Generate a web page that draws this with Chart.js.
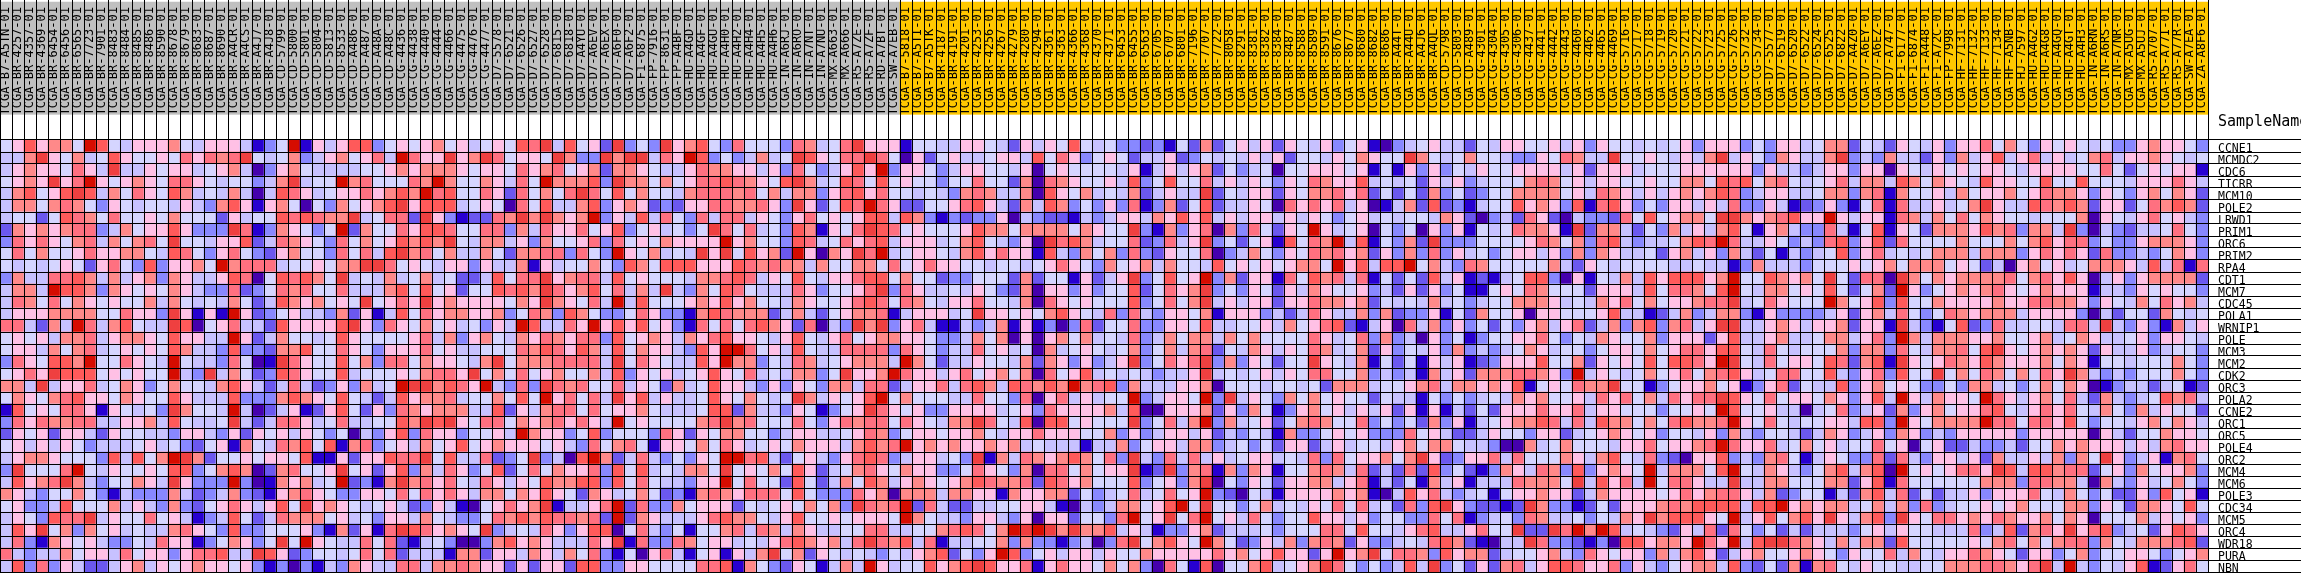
<!DOCTYPE html>
<html>
<head>
<meta charset="utf-8">
<title>Heatmap</title>
<script src="https://cdn.jsdelivr.net/npm/chart.js@4"></script>
<style>
  body { margin: 0; background: #fff; }
  canvas { display: block; }
</style>
</head>
<body>
<canvas id="chart" width="2301" height="573"></canvas>
<script>
// sample ids, grouped as they appear left to right
const greySamples = [
  "B7-A5TN","BR-4257","BR-4357","BR-4369","BR-6454","BR-6456","BR-6565","BR-7723","BR-7901","BR-8483","BR-8484","BR-8485","BR-8486","BR-8590","BR-8678","BR-8679","BR-8683","BR-8687","BR-8690","BR-A4CR","BR-A4CS","BR-A4J7","BR-A4J8",
  "CD-5799","CD-5800","CD-5801","CD-5804","CD-5813","CD-8533","CD-A486","CD-A487","CD-A48A","CD-A48C","CG-4436","CG-4438","CG-4440","CG-4444","CG-4466","CG-4475","CG-4476","CG-4477","D7-5578","D7-6521","D7-6526","D7-6527","D7-6528",
  "D7-6815","D7-6818","D7-A4YU","D7-A6EV","D7-A6EX","D7-A6F0","D7-A6F2","F1-6875","FP-7916","FP-8631","FP-A4BF","HU-A4GD","HU-A4GF","HU-A4GU","HU-A4H0","HU-A4H2","HU-A4H4","HU-A4H5","HU-A4H6","IN-A6RJ","IN-A6RO","IN-A7NT","IN-A7NU",
  "MX-A663","MX-A666","R5-A7ZE","R5-A7ZF","RD-A7BT","SW-A7EB"
];
const yellowSamples = [
  "B7-5818","B7-A5TI","B7-A5TK","BR-4187","BR-4191","BR-4201","BR-4253","BR-4256","BR-4267","BR-4279","BR-4280","BR-4294","BR-4361","BR-4363","BR-4366","BR-4368","BR-4370",
  "BR-4371","BR-6453","BR-6455","BR-6563","BR-6705","BR-6707","BR-6801","BR-7196","BR-7707","BR-7722","BR-8058","BR-8291","BR-8381","BR-8382","BR-8384","BR-8487","BR-8588","BR-8589","BR-8591","BR-8676","BR-8677","BR-8680","BR-8682",
  "BR-8686","BR-A44T","BR-A44U","BR-A4J6","BR-A4QL","CD-5798","CD-5803","CD-A489","CG-4301","CG-4304","CG-4305","CG-4306","CG-4437","CG-4441","CG-4442","CG-4443","CG-4460","CG-4462","CG-4465","CG-4469","CG-5716","CG-5717","CG-5718",
  "CG-5719","CG-5720","CG-5721","CG-5722","CG-5723","CG-5725","CG-5726","CG-5732","CG-5734","D7-5577","D7-6519","D7-6520","D7-6522","D7-6524","D7-6525","D7-6822","D7-A4Z0","D7-A6EY","D7-A6EZ","D7-A747","F1-6177","F1-6874","F1-A448",
  "F1-A72C","FP-7998","HF-7131","HF-7132","HF-7133","HF-7134","HF-A5NB","HJ-7597","HU-A4G2","HU-A4G8","HU-A4GQ","HU-A4GT","HU-A4H3","IN-A6RN","IN-A6RS","IN-A7NR","MX-A5UG","MX-A5UJ","R5-A707","R5-A77I","R5-A77R","SW-A7EA","ZA-A8F6"
];
const genes = ["CCNE1","MCMDC2","CDC6","TICRR","MCM10","POLE2","LRWD1","PRIM1","ORC6","PRIM2","RPA4","CDT1","MCM7","CDC45","POLA1","WRNIP1","POLE","MCM3","MCM2","CDK2","ORC3","POLA2","CCNE2","ORC1","ORC5","POLE4","ORC2","MCM4","MCM6","POLE3","CDC34","MCM5","ORC4","WDR18","PURA","NBN"];

// expression level per gene, one hex digit per sample (0 lowest, b highest)
const levels = [
  "5696775b954666754666413 5b16469935656756456598a 49562a353a6795385553874 58a66615544665426465954 53323152725646265463561 03456442546655646365545 45636663536645772542654 63668575365654533676653",
  "447a6574596556586878a54 5734675684b866a67a85665 a733a7aa486b93534745a96 588a8506256445664958635 65244623545464625546576 55a7545755433658744a556 54647a465376447a3437442 63746946846457846676545",
  "467665864a4465664567403 67544445567677765665867 85672776544687766463853 4696b366534665546056555 54614646725345055666561 51636354655666646266645 55666666364434663660654 65656654666655852565661",
  "5676a68b656765886545534 7a455b7855587b75576485b 77793a77575688987659a74 59859565535585527087655 64935955846465365876694 54526463455578756466556 55775989578545684774975 76549665595595554666864",
  "479569a9475865974547404 986456686797b8955862857 58a85957554788878574773 68968554543787447096574 54724644a25466265778682 52527352355777756487646 46767983466445773781755 64756675687763653675762",
  "47757875365455464379616 7505375679a699945650859 44793676232668877863a62 598b8622556896427497353 63813725924465086868460 14729231455967639189635 36646483364123631581844 6457a644987972662587972",
  "45525987585565755526455 989877a45882a6312287a7a 767b3649485384884653685 65699497313233604322143 46647696946466464653564 54554762034286204332859 56775aa7678966b64661874 75857655455570654685643",
  "2767678834756696333a813 76535b27558699855883748 6685693564535a858453971 658a9856555697757777576 55a31736807385265b64560 5350636154587761a277425 37464795167433841591652 77769783774a30432445853",
  "38686578475785a55466924 87653857569797a54774637 55683856576666b67553984 586894666457954360a8974 55823846a3525619587b491 5372a333555568757389434 45798b84465343893692855 55755575796883533677763",
  "58575568667754985368532 6755385849a785744752778 83853b657454a6a59672b60 76a8b456654796866194375 73832655803475365878672 63738364535664637376445 26746374251434593684545 77747773686862833435763",
  "545456526853936675b7888 4556577aa85654663644716 45575397599966698787747 55775856866554554568653 7567475549565656775b694 99b57438755555742654555 54454413744435556567577 75652406756457776494818",
  "37448897474673764469805 98975a4547457452249588a 67884956555477898465954 66899575523355527255162 46a35956b37266185978481 52529461214599306154749 699967b5597675a52880a75 76777785786960463677772",
  "4774b997376565764338235 8785584447959562559897a 867958474a4375985444863 5568a386445465327066363 55925867a35365264765563 42626351156587555266649 588759b5477565952572b63 56767865676661443656553",
  "48758576565574754547524 9767565a5686a676666576a 76584b49555676967554765 56898587546685547086565 55935857a46466266877672 54547453455777645476857 566788a4586555b75693955 76666766887763654758674",
  "46667777558663a6161b623 56443726149586776673587 39753358633179877724742 567781466645a6656579654 83843665716663424864473 72336152755606655569441 24734773163333462674853 58767774666630425527545",
  "884274b8479544a90568442 966669a6386575645364b94 486b6969563185858976280 43a7a368411434716130382 55833665944556475689214 60847363525367468247379 37846aa4467646672661a43 15923844554884a43631746",
  "5656477846776596644b624 75545965555684736754768 76883956764768966546954 68567766533475706067574 54834757747575555864583 73406351355668535476557 36662694467445774683b74 77766755674576445636654",
  "56647578456565974439332 77955865366685644555879 86974957664396bb8564954 48888386534485645074565 45735747825476465874572 63546373434576455356657 56886995485455573773854 77859a65676762644634553",
  "3865997b558654b54438501 a86559573885766547a5777 88884a58654496b77354874 567774b7524465547276363 46a35868a37365255a65471 52516461236669557265659 59986ba5485665982791a65 68769766675761554555753",
  "5686a999565655b43a47523 9865594555657886a575856 75574936564569658454773 5a667b86646856757085694 54543446a45456465885573 4341746277788763b465457 56857896458855943683955 a5758757586a74343555753",
  "774a4668457635755479642 4842363745baa7986b4383a 87855846527459664363653 77488246684897498797b78 93744466705554554527774 5567847767691565877a551 35667561368254493675653 35377453575760134424512",
  "57657896657655964449333 7976595424967784557595b 68584a69464459657545a74 6569b575554485538068464 55b34665b3a465375756552 54415353454767556486857 48688a96585665763694b64 7665b864675842743459784",
  "19565886165453a7554b402 46126952638767774492647 88585667544459927443651 356a8656336666456386666 74900666726375136756464 62616142526668668466555 35565b95564404583462736 75668954686854753746552",
  "3868778844667495445a424 886458445597a9a65885767 86864b56555578a78555853 687885865477a8549099565 55a35847b37456257875583 53527361456779848497757 589778b6585455664993b65 7777b885886953554675764",
  "26562664265544366436265 64653504369386635564b76 63593555386265775534664 45687356656675466866655 73634664624354173356563 33856422465536624567656 35546374355424763463763 43666663666660642557665",
  "56464653444564532561754 87959178356475695676665 64385785166575864565766 647978b6767667674544414 47356647734535266246455 46757754430074575554668 56678b86684575645585605 62243342557676664647866",
  "46776555394957ba7255656 659116266988a59448235a3 409b7248435365bb8942564 368983466453a1748767975 83a43848464566454838566 757a6236684855576479548 32066934378514653382843 66462744647375a63461785",
  "3a5558b5465565993579702 78556a56269374863592585 76683959454775a56575962 45786576633586537088575 66a12a37817376155787482 4282935213764873936765b 477759b5476435794790b56 56886a94997882563756673",
  "49678a74355764a6333b301 76745b2317a786854864659 77993958544366b58552952 47597467656798778298675 55935637a05365266774681 4251746144487775a49684b 588644a4477555772691855 55557773887740743645753",
  "76435575314333742347321 67865336658586864775769 65276457523178768885953 33867077747766176677253 45845856b32054166667671 04968434515667662476666 56867886472355142794825 24463666854753522639561",
  "56334955574643732568646 95a6765456423641056867a 14468b28337566625456575 73a878b2842244556641043 477569b5a55357454658584 52839a632212a7331252666 7879999499b676774574738 34556567555773652776595",
  "4653988a465585641349524 87775645366475433587979 88782b27644468977546955 656665b7544366436066255 38b56a58b56485355966463 5533858134538744535476a 799965b4695796a64793a65 88676876675760555746563",
  "496a5737564544786539335 5563172618a986765a34548 63699058435155784874764 455884455789857baba7a77 94641336724445355588595 54689446855a22a8b7b9454 32648285352424443564655 44483492786a68934526986",
  "48317656433548661357635 a5b65448582145300379676 44486a18338756645468976 748a8794814455737331340 38a57965b75236473787263 345489721044a8332130996 776b86b49aa876474772955 55565785757883754777892",
  "843447566485663688944a9 62355458582444177266476 475831506841561647a5726 54543546792536b93564664 6557666668675696626b67a 58873967724556743865663 74796246755676536558475 46687652663573556653567",
  "49383642246746567665631 30314376448847787662626 62993366555588917532651 474b64559679a9668168665 757308519055794567a8535 3494a352627846998668364 35677493252717854655445 577788768a4b43546912685"
];

// colour for each level
const palette = ["#4500ad","#2700d1","#6b58ef","#8888ff","#c7c1ff","#d5d5ff","#ffc0e5","#ff8989","#ff7080","#ff5a5a","#ef4040","#d60c00"];

const samples = greySamples.concat(yellowSamples).map((s) => "TCGA-" + s + "-01");
const bandColors = samples.map((s, i) => (i < greySamples.length ? "#c0c0c0" : "#ffc800"));

// heights in row units (one row is 12px)
const rowPx = 12;
const gapRows = 25 / rowPx;
const bandRows = 113 / rowPx;
const topRows = 2 / rowPx;
const yMax = genes.length + gapRows + bandRows + topRows;
const bandTop = genes.length + gapRows + bandRows;

const one = samples.map(() => 1);

// genes are stacked from the bottom up, so go through them reversed
const datasets = genes.map((g, i) => ({
  label: g,
  data: one,
  backgroundColor: levels[i].replace(/ /g, "").split("").map((c) => palette[parseInt(c, 16)])
})).reverse();

datasets.push({ label: "gap", data: samples.map(() => gapRows), backgroundColor: "#ffffff" });
datasets.push({ label: "SampleClass", data: samples.map(() => bandRows), backgroundColor: bandColors });

const rowLabels = genes.concat(["SampleName"]);
const labelTicks = genes.map((g, i) => genes.length - 0.5 - i - 3 / rowPx);
labelTicks.push(genes.length + 1.5);

// scales ask for room for their end labels, the chart has to fill the canvas
function noMargins(s) {
  s.paddingTop = 0;
  s.paddingBottom = 0;
  s.paddingLeft = 0;
  s.paddingRight = 0;
}

new Chart(document.getElementById("chart"), {
  type: "bar",
  data: { labels: samples, datasets: datasets },
  options: {
    responsive: false,
    animation: false,
    layout: { padding: { left: 0, right: 0, top: 0, bottom: 1 } },
    datasets: { bar: { barPercentage: 1, categoryPercentage: 1, borderWidth: 0 } },
    plugins: { legend: { display: false }, tooltip: { enabled: false } },
    scales: {
      x: {
        stacked: true,
        position: { y: bandTop },
        offset: true,
        border: { display: false },
        grid: { offset: true, color: "#000", lineWidth: 1, drawTicks: false, z: 1 },
        afterFit: noMargins,
        ticks: {
          autoSkip: false, minRotation: 90, maxRotation: 90, padding: 5, z: 1,
          color: "#000", font: { family: "DejaVu Sans Mono", size: 12 }
        }
      },
      y: {
        stacked: true,
        position: "right",
        weight: 1,
        min: 0,
        max: yMax,
        border: { display: false },
        grid: { display: false, drawTicks: false },
        afterBuildTicks: (s) => { s.ticks = labelTicks.map((v) => ({ value: v })); },
        afterFit: (s) => { s.width = 93; noMargins(s); },
        ticks: {
          autoSkip: false, padding: 10, color: "#000",
          callback: (v, i) => rowLabels[i],
          font: (ctx) => ({ family: "DejaVu Sans Mono", size: ctx.index === genes.length ? 15 : 11.5 })
        }
      },
      // row separators, they run on under the gene names
      yLines: {
        position: "right",
        weight: 0,
        min: 0,
        max: yMax,
        border: { display: false },
        grid: { color: "#000", lineWidth: 1, tickLength: 93, z: 1 },
        afterBuildTicks: (s) => { s.ticks = genes.map((g, i) => ({ value: i })).concat([{ value: genes.length }]); },
        afterFit: (s) => { s.width = 0; noMargins(s); },
        ticks: { display: false, autoSkip: false }
      }
    }
  }
});
</script>
</body>
</html>
